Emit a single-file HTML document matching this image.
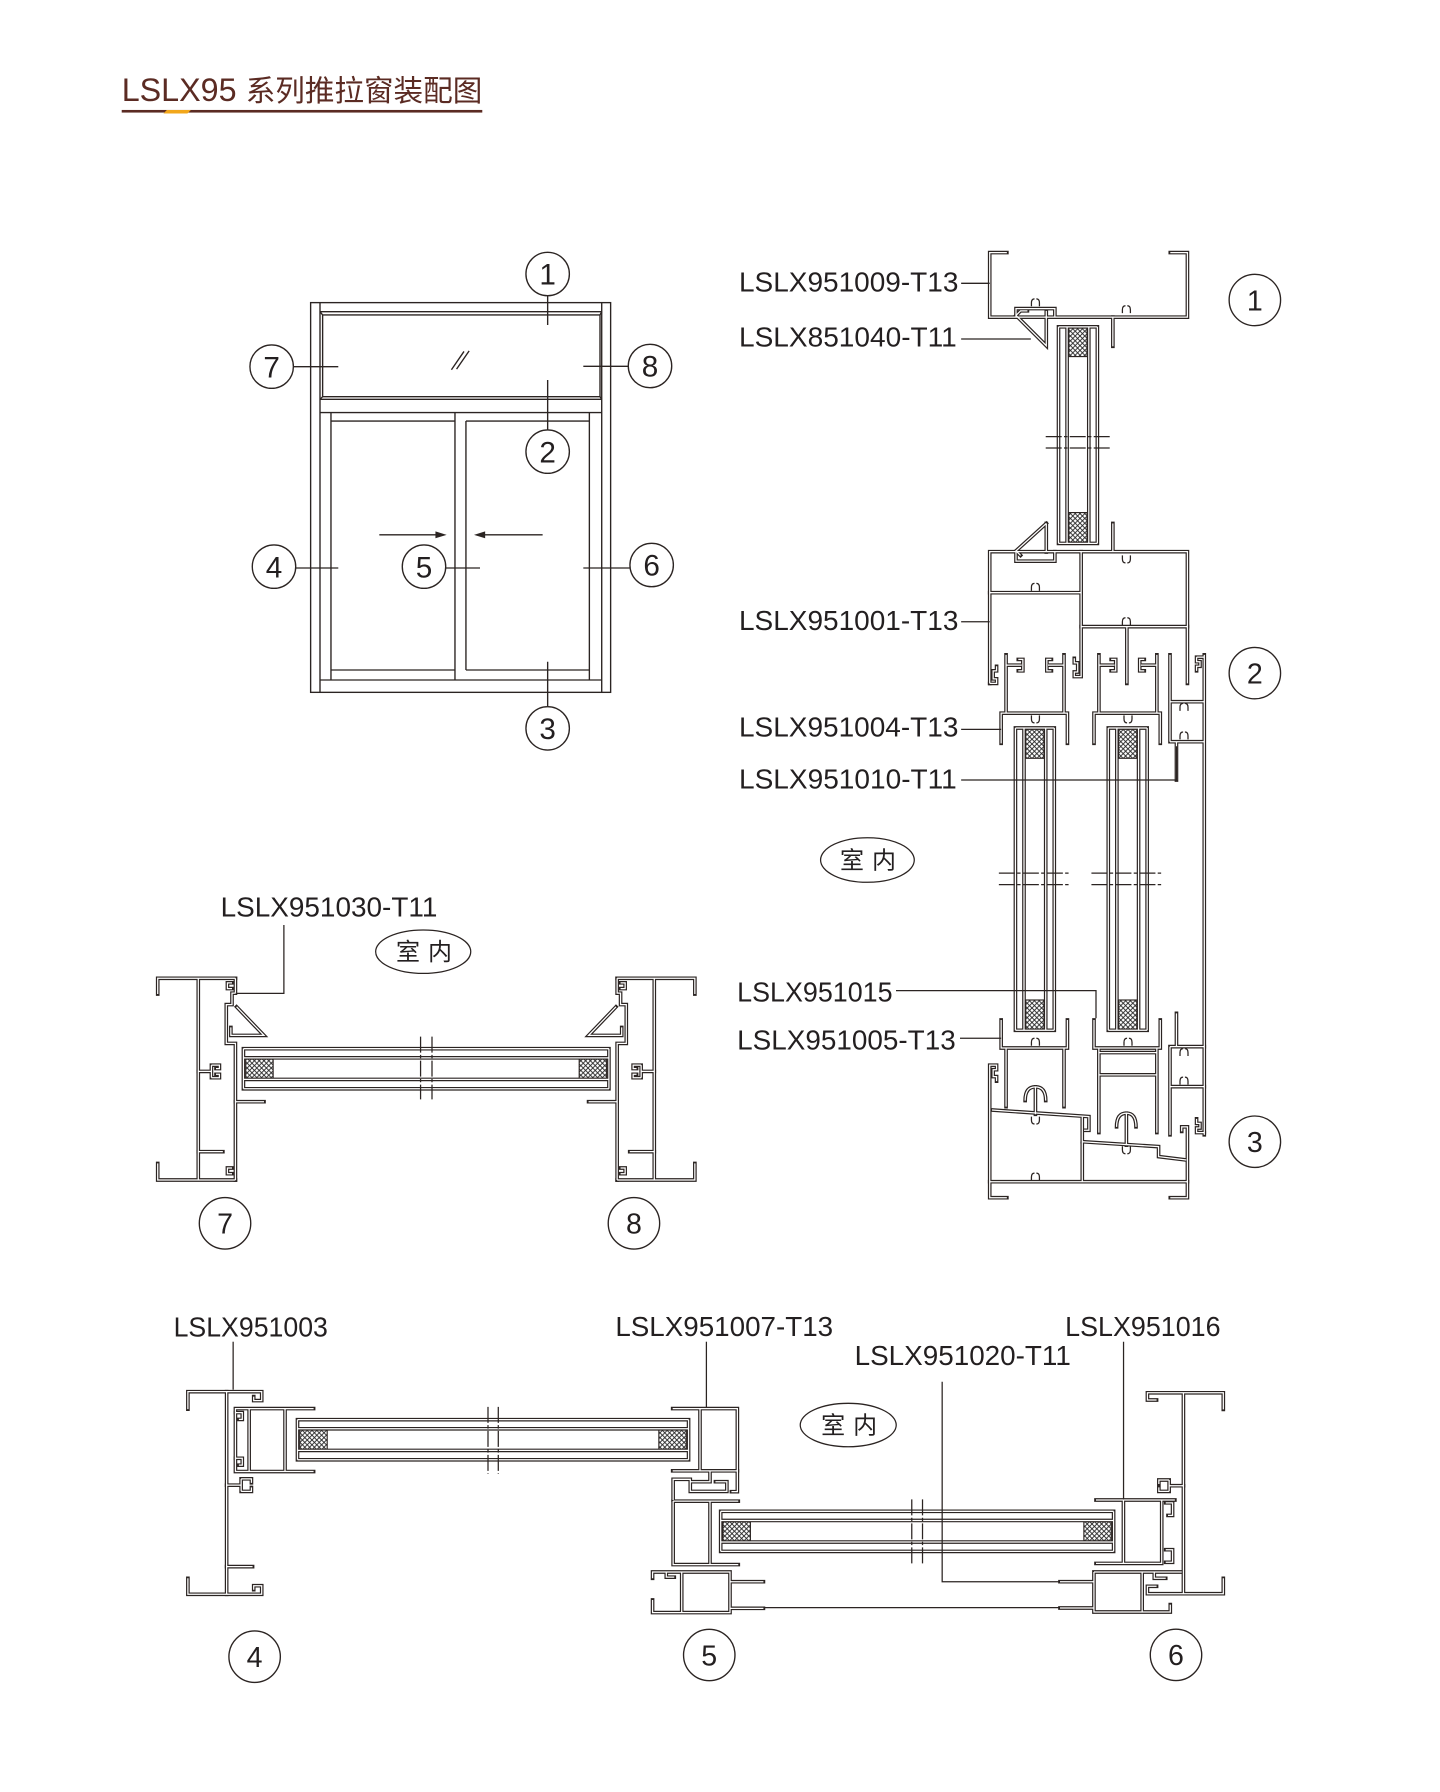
<!DOCTYPE html>
<html>
<head>
<meta charset="utf-8">
<style>
html,body{margin:0;padding:0;background:#fff;}
svg{display:block;}
.lb{font-family:"Liberation Sans",Arial,sans-serif;font-size:24.5px;fill:#231f20;}
.dg{font-family:"Liberation Sans",Arial,sans-serif;fill:#231f20;text-anchor:middle;}
.cj{font-family:"Liberation Sans","Noto Sans CJK SC",sans-serif;font-size:21px;fill:#231f20;}
</style>
</head>
<body>
<svg width="1440" height="1792" viewBox="0 0 1260 1568" xmlns="http://www.w3.org/2000/svg" xmlns:xlink="http://www.w3.org/1999/xlink">
<defs>
<pattern id="xh" width="4.2" height="4.2" patternUnits="userSpaceOnUse">
<rect width="4.2" height="4.2" fill="#fff"/>
<path d="M0,0 L4.2,4.2 M4.2,0 L0,4.2" stroke="#222" stroke-width="0.8"/>
</pattern>
<path id="om" d="M-3.5,3 V0 Q-3.5,-3.5 -0.8,-3.5 M0.8,-3.5 Q3.5,-3.5 3.5,0 V3"/>

<g id="F7">
<path d="M138,869.75 V856 H206 M173.5,856 V1032.5 M138,1018 V1032.5 H206"/>
<path d="M206,856 V869 H203 V879 H198 V913 H206 V1032.5"/>
<path d="M203,860 H199 V865 H203"/>
<path d="M207,881 L231,906 H202 V899"/>
<path d="M173.5,937.5 H185 M185,932 V943 M185,932 H192 V935 H189 M185,943 H192 V940 H189"/>
<path d="M206,964 H231 M173.5,1007.7 H195 M203,1022 H199 V1027 H203"/>
</g>

<g id="SASHTOP">
<path d="M876,650.4 V624 H934 V650.4 M880.3,624 V573 M931,624 V573 M880.3,582 H894 M891,577 H895 V587 H891 M931,582 H917 M920,577 H916 V587 H920"/>
</g>
<g id="SGLASS">
<path d="M888.5,637 V901.5 M896,637 V901.5 M915,637 V901.5 M922.5,637 V901.5 M888.5,637 H922.5 M888.5,901.5 H922.5"/>
</g>

<g id="P">
<path d="M881,221 H866 V277.5 H1039 V221 H1024"/>
<path d="M889,277.5 V270 H923 V277.5"/>
<path d="M973.75,277.5 V303"/>
<path d="M889,276 L915.5,302.5 V272 M889,276 L893,272 H899"/>
<path d="M926.2,286 V475.5 M933.7,286 V475.5 M952.7,286 V475.5 M960.2,286 V475.5 M926.2,286 H960.2 M926.2,475.5 H960.2"/>
<path d="M866,598 V482.7 H1039 V598"/>
<path d="M866,598 H872 V594 H869 V587 H872 V583"/>
<path d="M946,482.7 V592 H940 V588 H943 V580 H940 V576"/>
<path d="M866,518.6 H946 M946,548.3 H1039 M986,548.3 V598"/>
<path d="M889,482.7 V491 H923 V482.7"/>
<path d="M915.5,458 V483 M915.5,458 L889,482 L893,486"/>
<path d="M973.75,458 V482.7"/>
<use href="#SASHTOP"/>
<use href="#SASHTOP" transform="translate(81.25 0)"/>
<use href="#SGLASS"/>
<use href="#SGLASS" transform="translate(81.25 0)"/>
<path d="M1023.75,649 V573 M1023.75,614 H1053.75 M1023.75,649 H1053.75 M1053.75,573 V993 M1047,575 H1053.75 M1047,575 V579 H1050 V583 H1047 V587 M1029.4,649 V682.5"/>
<path d="M1029.4,886.7 V915.8 M1023.75,915.8 H1053.75 M1023.75,950.8 H1053.75 M1023.75,915.8 V993 M1047,979 V983 H1050 V987 H1047 V991 H1053.75"/>
<path d="M876,892.5 V917 H934 V892.5 M880.3,917 V968.3 M931,917 V968.3"/>
<path d="M957.25,892.5 V917 H1015.25 V892.5 M961.5,917 V991 M1012.25,917 V991 M961.5,921 H1012.25 M961.5,940.5 H1012.25"/>
<path d="M881,1048 H866 V932 H872 V936 H869 V942 H872 V946"/>
<path d="M866,1034 H1039"/>
<path d="M1024,1048 H1039 V986 H1034 V990"/>
<path d="M868,971.25 L952.8,977 V989 H948.5 M947,977 V1034"/>
<path d="M906,951 V975 M897,963 Q897,951 906,951 Q915,951 915,963"/>
<path d="M947,999 L1013.75,1003.3 V1012 L1038,1015"/>
<path d="M985.6,974 V1002 M977,986 Q977,974 985.6,974 Q994,974 994,986"/>

<use href="#F7"/>
<use href="#F7" transform="translate(746 0) scale(-1 1)"/>
<path d="M213,917.6 H532.8 M213,925.6 H532.8 M213,944.5 H532.8 M213,952.7 H532.8 M213,917.6 V952.7 M532.8,917.6 V952.7"/>

<path d="M164.4,1233 V1217.7 H229 V1225.5 H222 V1222"/>
<path d="M198.3,1217.7 V1395"/>
<path d="M164.4,1381 V1395 H229 V1387.5 H222 V1391"/>
<path d="M274.4,1232.5 H206 V1287.6 H274.4 M218,1232.5 V1287.6 M249.4,1232.5 V1287.6"/>
<path d="M206,1236 H212 V1242 H209 M206,1276 H212 V1282 H209"/>
<path d="M198.3,1299.5 H211 M211,1294 V1305 M211,1294 H220 V1297.5 M211,1305 H220 V1301.5"/>
<path d="M198.3,1370.8 H221"/>
<path d="M260.3,1242.2 H602.5 M260.3,1250.2 H602.5 M260.3,1269.1 H602.5 M260.3,1277.3 H602.5 M260.3,1242.2 V1277.3 M602.5,1242.2 V1277.3"/>
<path d="M588.6,1232.5 H645.2 V1287 H588.6 M612.5,1232.5 V1287"/>
<path d="M589,1312.5 V1294.4 H604 V1298 M621.25,1287 V1296.5 H604 V1305 H636 V1296.5 H626 M645.2,1287 V1305.2 H640"/>
<path d="M589,1313.5 H646 M589,1313.5 V1369 H646 M621.25,1313.5 V1369"/>
<path d="M571,1381 V1375.5 H638.75 V1411 H571 V1400 M596.5,1375.5 V1411 M638.75,1384 H668 M638.75,1407.3 H668 M583,1375.5 V1380 H590"/>
<path d="M630.6,1322.4 H974.4 M630.6,1330.4 H974.4 M630.6,1349.3 H974.4 M630.6,1357.5 H974.4 M630.6,1322.4 V1357.5 M974.4,1322.4 V1357.5"/>
<path d="M927.5,1384 H957.2 M927.5,1407 H957.2 M957.2,1375.5 H1034 M957.2,1375.5 V1410.5 H1024 V1404 M999.4,1375.5 V1410.5 M1010,1375.5 V1381 H1020"/>
<path d="M959,1312.5 H1028 M983,1312.5 V1368 H1016.5 V1312.5 M959,1368 H983 M1020,1315 H1026 V1326 H1022 M1020,1356 H1026 V1367 H1020"/>
<path d="M1012,1225 H1004 V1218.7 H1070.4 V1233.2"/>
<path d="M1035.5,1218.7 V1394.5"/>
<path d="M1012,1388 H1004 V1394.5 H1070.4 V1381"/>
<path d="M1035.5,1300 H1023 M1023,1295 V1305 M1023,1295 H1014 V1298.5 M1023,1305 H1014 V1301.5"/>
</g>
</defs>

<rect width="1260" height="1568" fill="#fff"/>

<text x="106.5" y="88.4" font-family="Liberation Sans, Arial, sans-serif" font-size="28.5" fill="#5b2b23" textLength="100.5" lengthAdjust="spacingAndGlyphs">LSLX95</text>
<text x="215" y="88.4" font-family="Liberation Sans, Noto Sans CJK SC, sans-serif" font-size="26" fill="#5b2b23" textLength="207" lengthAdjust="spacingAndGlyphs">系列推拉窗装配图</text>
<rect x="106.5" y="96.2" width="315.5" height="2.3" fill="#5b2b23"/>
<polygon points="146,96.2 167,96.2 164,99.3 143,99.3" fill="#f2a71b"/>

<g fill="none" stroke="#2b2422" stroke-width="1.2">
<rect x="271.8" y="264.8" width="262.5" height="341"/>
<path d="M280,264.8 V605.8 M526.5,264.8 V605.8 M280,272.7 H526.5 M280,595 H526.5"/>
<path d="M282.3,275.6 H525 V347.1 H282.3 Z M280,272.7 L282.3,275.6 M526.5,272.7 L525,275.6 M280,349.4 L282.3,347.1 M526.5,349.4 L525,347.1"/>
<path d="M280,349.4 H526.5 M280,361 H526.5"/>
<path d="M289.6,361 V595 M398.1,361 V595 M289.6,368.4 H398.1 M289.6,586.25 H398.1"/>
<path d="M407.7,368.4 V586.25 M515.7,361 V595 M407.7,368.4 H515.7 M407.7,586.25 H515.7"/>
<path d="M395,323.5 L406,307.5 M399.5,323 L410.5,307"/>
<path d="M479.2,259 V284.4 M479.2,332.5 V376 M479.2,579 V618"/>
<path d="M257.25,320.8 H296 M510.4,320.5 H549.5 M259,497 H296 M390,497 H420 M510.4,497 H551"/>
<path d="M331.9,468 H384 M474.8,468 H421"/>
</g>
<polygon points="390.8,468 381,465 381,471" fill="#2b2422"/>
<polygon points="414.75,468 424.5,465 424.5,471" fill="#2b2422"/>
<g fill="#fff" stroke="#2b2422" stroke-width="1.2">
<circle cx="479.2" cy="239.75" r="19"/>
<circle cx="479.2" cy="395.2" r="19"/>
<circle cx="479.2" cy="637.3" r="19"/>
<circle cx="237.7" cy="320.8" r="19"/>
<circle cx="568.75" cy="320.25" r="19"/>
<circle cx="239.75" cy="495.8" r="19"/>
<circle cx="371" cy="495.8" r="19"/>
<circle cx="570.2" cy="494.4" r="19"/>
</g>
<g class="dg" font-size="26">
<text x="479.2" y="249">1</text>
<text x="479.2" y="404.5">2</text>
<text x="479.2" y="646.6">3</text>
<text x="237.7" y="330.1">7</text>
<text x="568.75" y="329.5">8</text>
<text x="239.75" y="505.1">4</text>
<text x="371" y="505.1">5</text>
<text x="570.2" y="503.7">6</text>
</g>

<g fill="url(#xh)" stroke="#2b2422" stroke-width="1">
<rect x="935.2" y="287" width="16" height="25"/>
<rect x="935.2" y="448.5" width="16" height="26"/>
<rect x="897.5" y="638" width="16" height="25.5"/>
<rect x="897.5" y="875" width="16" height="25.5"/>
<rect x="978.75" y="638" width="16" height="25.5"/>
<rect x="978.75" y="875" width="16" height="25.5"/>
<rect x="215" y="926.6" width="24" height="17"/>
<rect x="506.8" y="926.6" width="24" height="17"/>
<rect x="262.3" y="1251.2" width="24" height="17"/>
<rect x="576.5" y="1251.2" width="24" height="17"/>
<rect x="632.6" y="1331.4" width="24" height="17"/>
<rect x="948.4" y="1331.4" width="24" height="17"/>
</g>

<g fill="none" stroke="#2b2422" stroke-width="3.2" stroke-linecap="square" stroke-linejoin="miter"><use href="#P"/></g>
<g fill="none" stroke="#ffffff" stroke-width="1.1" stroke-linecap="butt" stroke-linejoin="miter"><use href="#P"/></g>

<g fill="none" stroke="#2b2422" stroke-width="1.1">
<use href="#om" transform="translate(906 265)"/>
<use href="#om" transform="translate(985.6 271)"/>
<use href="#om" transform="translate(906 514)"/>
<use href="#om" transform="translate(985.6 544)"/>
<use href="#om" transform="translate(985.6 489) scale(1 -1)"/>
<use href="#om" transform="translate(906 629) scale(1 -1)"/>
<use href="#om" transform="translate(987 629) scale(1 -1)"/>
<use href="#om" transform="translate(1036 619)"/>
<use href="#om" transform="translate(1036 644)"/>
<use href="#om" transform="translate(1036 921)"/>
<use href="#om" transform="translate(1036 946)"/>
<use href="#om" transform="translate(906 912)"/>
<use href="#om" transform="translate(987 912)"/>
<use href="#om" transform="translate(906 980) scale(1 -1)"/>
<use href="#om" transform="translate(906 1030)"/>
<use href="#om" transform="translate(985.6 1006) scale(1 -1)"/>
</g>

<g fill="none" stroke="#2b2422" stroke-width="1.1" stroke-dasharray="14 2 3 2">
<path d="M915,382 H971.6 M915,392 H971.6"/>
<path d="M874,764 H936 M955,764 H1017 M874,774 H936 M955,774 H1017"/>
<path d="M368,907 V962 M378,907 V962"/>
<path d="M427,1231 V1289.5 M436,1231 V1289.5"/>
<path d="M797.8,1312 V1370 M807.2,1312 V1370"/>
</g>

<g fill="none" stroke="#2b2422" stroke-width="1.1">
<path d="M841,247.9 H866"/>
<path d="M841,296.6 H902"/>
<path d="M841,544 H866"/>
<path d="M841,638.2 H876"/>
<path d="M841,682.5 H1029.4 V653"/>
<path d="M784,866.8 H959 V891"/>
<path d="M840,908.5 H876"/>
<path d="M248.4,809.4 V869.2 H206.25"/>
<path d="M204,1174 V1216"/>
<path d="M618.1,1174 V1231.4"/>
<path d="M824.4,1209 V1384 H927.5"/>
<path d="M983.1,1174 V1312"/>
<path d="M668,1406.7 H927.5"/>
</g>

<text class="lb" x="646.6" y="255.2" textLength="192" lengthAdjust="spacingAndGlyphs">LSLX951009-T13</text>
<text class="lb" x="646.6" y="303.3" textLength="190.6" lengthAdjust="spacingAndGlyphs">LSLX851040-T11</text>
<text class="lb" x="646.6" y="551.25" textLength="192" lengthAdjust="spacingAndGlyphs">LSLX951001-T13</text>
<text class="lb" x="646.6" y="644.6" textLength="192" lengthAdjust="spacingAndGlyphs">LSLX951004-T13</text>
<text class="lb" x="646.6" y="689.8" textLength="190.6" lengthAdjust="spacingAndGlyphs">LSLX951010-T11</text>
<text class="lb" x="645" y="876.5" textLength="136" lengthAdjust="spacingAndGlyphs">LSLX951015</text>
<text class="lb" x="645" y="918.2" textLength="191.25" lengthAdjust="spacingAndGlyphs">LSLX951005-T13</text>
<text class="lb" x="193" y="802" textLength="189.7" lengthAdjust="spacingAndGlyphs">LSLX951030-T11</text>
<text class="lb" x="151.9" y="1169.6" textLength="135" lengthAdjust="spacingAndGlyphs">LSLX951003</text>
<text class="lb" x="538.4" y="1169" textLength="190.6" lengthAdjust="spacingAndGlyphs">LSLX951007-T13</text>
<text class="lb" x="747.8" y="1194.4" textLength="189.2" lengthAdjust="spacingAndGlyphs">LSLX951020-T11</text>
<text class="lb" x="932" y="1169" textLength="136" lengthAdjust="spacingAndGlyphs">LSLX951016</text>

<g fill="#fff" stroke="#2b2422" stroke-width="1.1">
<ellipse cx="759" cy="752.5" rx="41" ry="19.5"/>
<ellipse cx="370.3" cy="832.7" rx="41.6" ry="19"/>
<ellipse cx="742.2" cy="1246.9" rx="42" ry="19"/>
</g>
<text class="cj" x="735" y="760">室</text>
<text class="cj" x="763" y="760">内</text>
<text class="cj" x="346.5" y="840.2">室</text>
<text class="cj" x="374.5" y="840.2">内</text>
<text class="cj" x="718.5" y="1254.4">室</text>
<text class="cj" x="746.5" y="1254.4">内</text>

<g fill="#fff" stroke="#2b2422" stroke-width="1.2">
<circle cx="1098" cy="262.5" r="22.5"/>
<circle cx="1098" cy="589" r="22.5"/>
<circle cx="1098" cy="999" r="22.5"/>
<circle cx="196.9" cy="1070.4" r="22.5"/>
<circle cx="554.7" cy="1070.4" r="22.5"/>
<circle cx="222.8" cy="1449.6" r="22.5"/>
<circle cx="620.6" cy="1448.1" r="22.5"/>
<circle cx="1029" cy="1448" r="22.5"/>
</g>
<g class="dg" font-size="25">
<text x="1098" y="271.5">1</text>
<text x="1098" y="598">2</text>
<text x="1098" y="1008">3</text>
<text x="196.9" y="1079.4">7</text>
<text x="554.7" y="1079.4">8</text>
<text x="222.8" y="1458.6">4</text>
<text x="620.6" y="1457.1">5</text>
<text x="1029" y="1457">6</text>
</g>
</svg>
</body>
</html>
